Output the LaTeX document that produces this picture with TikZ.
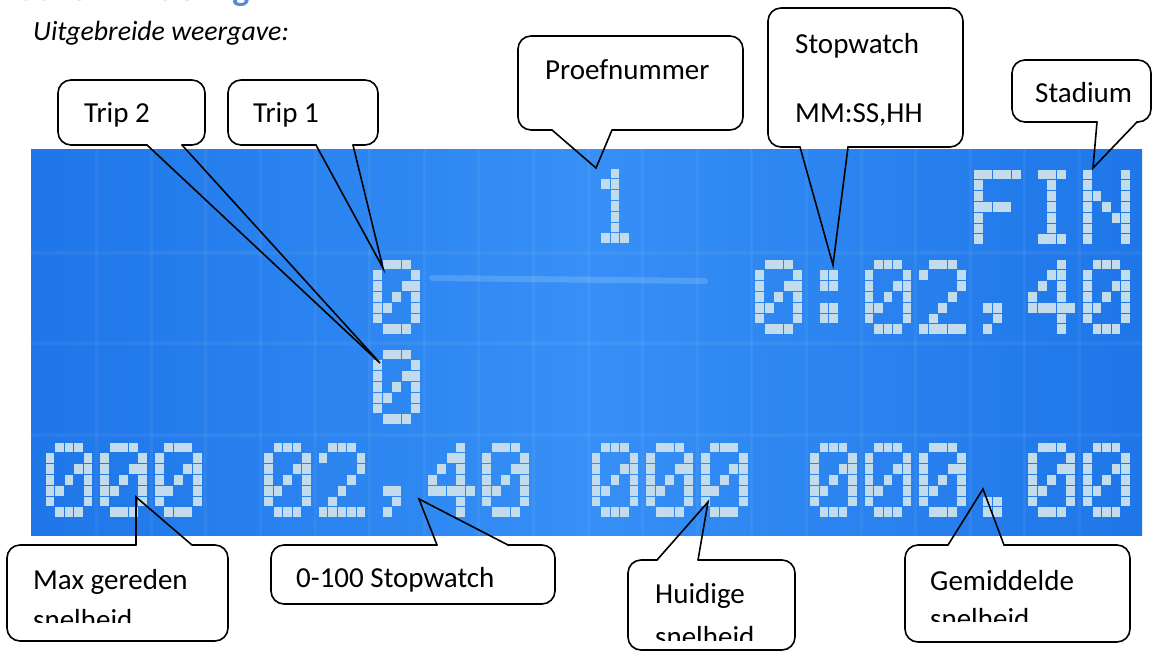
\documentclass[tikz,border=0pt]{standalone}
\usepackage{fontspec}
\setmainfont{Carlito}
\definecolor{lcdedge}{RGB}{30,118,232}
\definecolor{lcdmid}{RGB}{54,144,246}
\definecolor{lcddotc}{RGB}{194,220,238}
\definecolor{headblue}{RGB}{84,141,212}
\tikzset{
  callout/.style={draw=black, line width=1.6pt, rounded corners=13pt, line cap=round},
  ptr/.style={draw=black, line width=1.6pt, line cap=round, line join=miter},
  lbl/.style={anchor=base west, inner sep=0pt, font=\fontsize{29}{34}\selectfont},
  lcddot/.style={fill=lcddotc},
}
\def\gZero{0/{1,2,3},1/{0,4},2/{0,3,4},3/{0,2,4},4/{0,1,4},5/{0,4},6/{1,2,3}}
\def\gOne{0/{2},1/{1,2},2/{2},3/{2},4/{2},5/{2},6/{1,2,3}}
\def\gTwo{0/{1,2,3},1/{0,4},2/{4},3/{3},4/{2},5/{1},6/{0,1,2,3,4}}
\def\gFour{0/{3},1/{2,3},2/{1,3},3/{0,3},4/{0,1,2,3,4},5/{3},6/{3}}
\def\gF{0/{0,1,2,3,4},1/{0},2/{0},3/{0,1,2,3},4/{0},5/{0},6/{0}}
\def\gI{0/{1,2,3},1/{2},2/{2},3/{2},4/{2},5/{2},6/{1,2,3}}
\def\gN{0/{0,4},1/{0,4},2/{0,1,4},3/{0,2,4},4/{0,3,4},5/{0,4},6/{0,4}}
\def\gColon{1/{1,2},2/{1,2},4/{1,2},5/{1,2}}
\def\gComma{4/{1,2},5/{2},6/{1}}
\def\gDot{5/{1,2},6/{1,2}}
\newcommand\lcdch[3]{%
  \foreach \lcdr/\lcdcs in #3 {%
    \foreach \lcdc in \lcdcs {%
      \fill[lcddot] ({45.6+#1*54.6+\lcdc*9.5},{#2+\lcdr*10.8-0.4}) rectangle ++(8.8,9.8);
    }%
  }%
}
% pointer on bottom edge: x1,y1,x2,y2,b1x,b2x,tip
\newcommand\callbot[7]{%
  \draw[callout] (#6,#4) -- (#3,#4) -- (#3,#2) -- (#1,#2) -- (#1,#4) -- (#5,#4);
  \draw[ptr] (#5,#4) -- (#7) -- (#6,#4);
}
% pointer on top edge
\newcommand\calltop[7]{%
  \draw[callout] (#6,#2) -- (#3,#2) -- (#3,#4) -- (#1,#4) -- (#1,#2) -- (#5,#2);
  \draw[ptr] (#5,#2) -- (#7) -- (#6,#2);
}
\begin{document}
\begin{tikzpicture}[x=1pt,y=-1pt]
\useasboundingbox (0,0) rectangle (1153,653);
% cut-off heading
\begin{scope}
\clip (0,0) rectangle (1153,653);
\node[anchor=base west, inner sep=0pt, text=headblue, font=\fontsize{36}{40}\selectfont\bfseries] (head) at (18,0.5) {Schermindeling};
\end{scope}
\node[anchor=base west, inner sep=0pt, font=\fontsize{27.8}{33}\selectfont\itshape] (title) at (33,40) {Uitgebreide weergave:};
% LCD
\shade[left color=lcdedge, right color=lcdedge, middle color=lcdmid] (31,149) rectangle (1142,535);
\foreach \k in {1,...,19} {
  \draw[white, opacity=0.05, line width=3pt] ({46+\k*54.6-4},149) -- ({46+\k*54.6-4},535);
}
\foreach \yy in {253,343,435} {
  \draw[white, opacity=0.05, line width=4pt] (31,\yy) -- (1142,\yy);
}
\draw[white, opacity=0.16, line width=6pt, line cap=round] (432,278) -- (705,281);
% row 1
\lcdch{10}{169}{\gOne}
\lcdch{17}{170}{\gF}
\lcdch{18}{170}{\gI}
\lcdch{19}{170}{\gN}
% row 2
\lcdch{6}{260}{\gZero}
\lcdch{13}{260}{\gZero}
\lcdch{14}{260}{\gColon}
\lcdch{15}{260}{\gZero}
\lcdch{16}{260}{\gTwo}
\lcdch{17}{260}{\gComma}
\lcdch{18}{260}{\gFour}
\lcdch{19}{260}{\gZero}
% row 3
\lcdch{6}{350}{\gZero}
% row 4
\lcdch{0}{443}{\gZero}
\lcdch{1}{443}{\gZero}
\lcdch{2}{443}{\gZero}
\lcdch{4}{443}{\gZero}
\lcdch{5}{443}{\gTwo}
\lcdch{6}{443}{\gComma}
\lcdch{7}{443}{\gFour}
\lcdch{8}{443}{\gZero}
\lcdch{10}{443}{\gZero}
\lcdch{11}{443}{\gZero}
\lcdch{12}{443}{\gZero}
\lcdch{14}{443}{\gZero}
\lcdch{15}{443}{\gZero}
\lcdch{16}{443}{\gZero}
\lcdch{17}{443}{\gDot}
\lcdch{18}{443}{\gZero}
\lcdch{19}{443}{\gZero}
% pointer tips
\coordinate (t2tip) at (380,363);
\coordinate (t1tip) at (383,268);
\coordinate (pntip) at (596,168);
\coordinate (swtip) at (833,265);
\coordinate (sttip) at (1093,168);
\coordinate (mxtip) at (136,497);
\coordinate (ohtip) at (419,499);
\coordinate (hutip) at (708,502);
\coordinate (gmtip) at (983,489);
% callouts
\callbot{58}{80}{205}{145}{147}{182}{t2tip}
\callbot{228}{80}{378}{145}{316}{353}{t1tip}
\callbot{518}{36}{743}{130}{552}{612}{pntip}
\callbot{768}{8}{963}{147}{800}{848}{swtip}
\callbot{1012}{60}{1151}{122}{1097}{1137}{sttip}
\calltop{7}{545}{228}{641}{136}{192}{mxtip}
\calltop{271}{545}{555}{604}{437}{508}{ohtip}
\calltop{628}{560}{795}{650}{657}{698}{hutip}
\calltop{905}{545}{1130}{642}{948}{1004}{gmtip}
% labels
\node[lbl] (t2) at (84,122) {Trip 2};
\node[lbl] (t1) at (253,122) {Trip 1};
\node[lbl] (pn) at (545,79) {Proefnummer};
\node[lbl] (sw1) at (795,53) {Stopwatch};
\node[lbl] (sw2) at (795,122) {MM:SS,HH};
\node[lbl] (st) at (1035,102) {Stadium};
\node[lbl] (mx1) at (33,589) {Max gereden};
\begin{scope}
\clip (0,0) rectangle (1153,622);
\node[lbl] (mx2) at (33,629) {snelheid};
\end{scope}
\node[lbl] (oh) at (296,587) {0-100 Stopwatch};
\node[lbl] (hu1) at (655,603) {Huidige};
\begin{scope}
\clip (0,0) rectangle (1153,640);
\node[lbl] (hu2) at (655,646) {snelheid};
\end{scope}
\node[lbl] (gm1) at (930,590) {Gemiddelde};
\begin{scope}
\clip (0,0) rectangle (1153,621);
\node[lbl] (gm2) at (930,628) {snelheid};
\end{scope}
\end{tikzpicture}
\end{document}
